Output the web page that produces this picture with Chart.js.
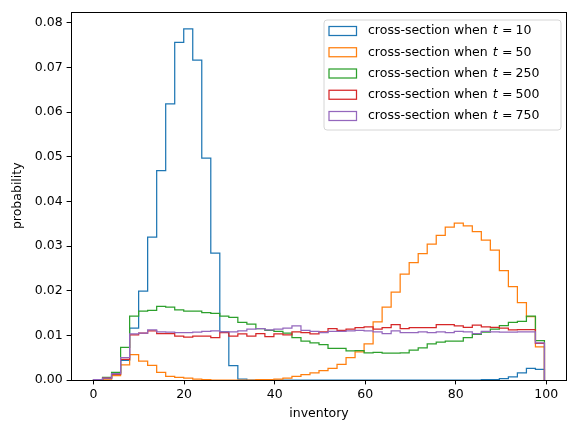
<!DOCTYPE html>
<html>
<head>
<meta charset="utf-8">
<title>cross-sections</title>
<script src="https://cdn.jsdelivr.net/npm/chart.js@4.4.1/dist/chart.umd.min.js"></script>
<style>
  html, body { margin: 0; padding: 0; background: #fff; }
  #wrap { width: 576px; height: 433px; position: relative; }
</style>
</head>
<body>
<div id="wrap"><canvas id="grafico"></canvas></div>
<script>
"use strict";

// histogram bins over the inventory range
const BIN_MIN = 0;
const BIN_MAX = 99.6;
const BIN_COUNT = 50;

const T_VALUES = [10, 50, 250, 500, 750];

// probability per bin (50 bins each)
const probT10 = [
    0.0001, 0.0003, 0.0013, 0.0044, 0.0116, 0.0199, 0.0320, 0.0469, 0.0618, 0.0756,
    0.0786, 0.0716, 0.0497, 0.0284, 0.0108, 0.0032, 0.0002, 0, 0, 0,
    0, 0, 0, 0, 0, 0, 0, 0, 0, 0,
    0, 0, 0, 0, 0, 0, 0, 0, 0, 0,
    0, 0, 0, 0.0001, 0.0001, 0.0003, 0.0007, 0.0016, 0.0026, 0.0024
];
const probT50 = [
    0, 0.0002, 0.0010, 0.0034, 0.0057, 0.0042, 0.0033, 0.0017, 0.0008, 0.0006,
    0.0004, 0.0002, 0.0001, 0, 0, 0, 0, 0, 0.0001, 0.0001,
    0.0002, 0.0004, 0.0008, 0.0012, 0.0016, 0.0021, 0.0026, 0.0035, 0.0050, 0.0063,
    0.0081, 0.0130, 0.0163, 0.0197, 0.0237, 0.0263, 0.0283, 0.0304, 0.0324, 0.0342,
    0.0351, 0.0345, 0.0332, 0.0313, 0.0291, 0.0245, 0.0209, 0.0173, 0.0142, 0.0074
];
const probT250 = [
    0.0001, 0.0006, 0.0017, 0.0073, 0.0143, 0.0154, 0.0156, 0.0165, 0.0163, 0.0157,
    0.0154, 0.0154, 0.0151, 0.0149, 0.0143, 0.0140, 0.0129, 0.0125, 0.0115, 0.0111,
    0.0109, 0.0105, 0.0095, 0.0087, 0.0083, 0.0079, 0.0071, 0.0071, 0.0065, 0.0066,
    0.0061, 0.0062, 0.0060, 0.0060, 0.0061, 0.0067, 0.0072, 0.0081, 0.0085, 0.0087,
    0.0087, 0.0095, 0.0102, 0.0107, 0.0114, 0.0122, 0.0129, 0.0131, 0.0143, 0.0088
];
const probT500 = [
    0.0001, 0.0004, 0.0013, 0.0046, 0.0101, 0.0105, 0.0110, 0.0104, 0.0104, 0.0098,
    0.0096, 0.0098, 0.0098, 0.0095, 0.0106, 0.0098, 0.0103, 0.0098, 0.0104, 0.0097,
    0.0103, 0.0101, 0.0108, 0.0106, 0.0103, 0.0108, 0.0115, 0.0111, 0.0114, 0.0117,
    0.0119, 0.0114, 0.0117, 0.0124, 0.0115, 0.0117, 0.0117, 0.0117, 0.0124, 0.0124,
    0.0121, 0.0118, 0.0123, 0.0119, 0.0118, 0.0116, 0.0112, 0.0113, 0.0113, 0.0082
];
const probT750 = [
    0.0001, 0.0004, 0.0014, 0.0050, 0.0103, 0.0105, 0.0112, 0.0108, 0.0107, 0.0106,
    0.0106, 0.0107, 0.0109, 0.0110, 0.0108, 0.0108, 0.0110, 0.0114, 0.0115, 0.0112,
    0.0114, 0.0116, 0.0121, 0.0111, 0.0109, 0.0106, 0.0109, 0.0109, 0.0110, 0.0111,
    0.0110, 0.0108, 0.0104, 0.0110, 0.0106, 0.0106, 0.0108, 0.0106, 0.0108, 0.0106,
    0.0109, 0.0108, 0.0104, 0.0109, 0.0108, 0.0107, 0.0107, 0.0108, 0.0108, 0.0083
];

const X_TICKS = [0, 20, 40, 60, 80, 100];
const Y_TICKS = [0, 0.01, 0.02, 0.03, 0.04, 0.05, 0.06, 0.07, 0.08];

const SERIES = [probT10, probT50, probT250, probT500, probT750];
const COLORS = ["#1f77b4", "#ff7f0e", "#2ca02c", "#d62728", "#9467bd"];
const FONT = "'DejaVu Sans', sans-serif";

document.addEventListener("DOMContentLoaded", () => {
    Chart.defaults.font.family = FONT;
    Chart.defaults.font.size = 12.5;
    Chart.defaults.color = "#000";

    // outline of a step histogram: up at the first edge, down at the last one
    function stepPoints(values) {
        const width = (BIN_MAX - BIN_MIN) / BIN_COUNT;
        const pts = [{ x: BIN_MIN, y: 0 }];
        values.forEach((v, i) => pts.push({ x: BIN_MIN + i * width, y: v }));
        pts.push({ x: BIN_MAX, y: 0 });
        return pts;
    }

    const datasets = SERIES.map((values, i) => ({
        label: `cross-section when t = ${T_VALUES[i]}`,
        tValue: T_VALUES[i],
        data: stepPoints(values),
        borderColor: COLORS[i],
        borderWidth: 1.25,
        stepped: "before",
        fill: false,
        pointRadius: 0,
        order: SERIES.length - i // later series on top, like matplotlib
    }));

    // top and right spines
    const framePlugin = {
        id: "frame",
        afterDatasetsDraw(chart) {
            const { ctx, chartArea: a } = chart;
            ctx.save();
            ctx.strokeStyle = "#000";
            ctx.lineWidth = 1;
            ctx.strokeRect(Math.round(a.left) + 0.5, Math.round(a.top) + 0.5,
                Math.round(a.right - a.left) - 1, Math.round(a.bottom - a.top) - 1);
            ctx.restore();
        }
    };

    // legend box in the upper right, with italic t
    const legendPlugin = {
        id: "legendBox",
        afterDraw(chart) {
            const { ctx, chartArea: a } = chart;
            const boxW = 237, boxH = 110;
            const bx = a.right - 6.5 - boxW, by = a.top + 8;
            ctx.save();
            ctx.beginPath();
            ctx.roundRect(bx + 0.5, by + 0.5, boxW, boxH, 3);
            ctx.fillStyle = "rgba(255,255,255,0.8)";
            ctx.fill();
            ctx.strokeStyle = "#d6d6d6";
            ctx.lineWidth = 1;
            ctx.stroke();

            ctx.textBaseline = "middle";
            chart.data.datasets.forEach((ds, i) => {
                const cy = by + 11.5 + i * 21.25;
                ctx.strokeStyle = ds.borderColor;
                ctx.lineWidth = 1.25;
                ctx.strokeRect(bx + 5.5, cy - 4.5, 27.5, 9);

                let x = bx + 44.5;
                ctx.fillStyle = "#000";
                ctx.font = `12.5px ${FONT}`;
                const prefix = "cross-section when ";
                ctx.fillText(prefix, x, cy);
                x += ctx.measureText(prefix).width + 1;
                ctx.font = `oblique 12.5px ${FONT}`;
                ctx.fillText("t", x, cy);
                x += ctx.measureText("t").width + 4.5;
                ctx.font = `12.5px ${FONT}`;
                ctx.fillText("=", x, cy);
                x += ctx.measureText("=").width + 3;
                ctx.fillText(String(ds.tValue), x, cy);
            });
            ctx.restore();
        }
    };

    const tickGrid = { drawOnChartArea: false, tickLength: 4.4, color: "#000", lineWidth: 1 };

    new Chart(document.getElementById("grafico"), {
        type: "line",
        data: { datasets },
        options: {
            responsive: true,
            maintainAspectRatio: false,
            animation: false,
            events: [],
            layout: { padding: { left: 0, right: 9, top: 9, bottom: 0 } },
            plugins: { legend: { display: false }, tooltip: { enabled: false } },
            scales: {
                x: {
                    type: "linear",
                    min: -4.98,
                    max: 104.58,
                    afterBuildTicks: s => { s.ticks = X_TICKS.map(v => ({ value: v })); },
                    afterFit: s => { s.height = 53; },
                    grid: tickGrid,
                    border: { display: false },
                    ticks: { padding: 3, maxRotation: 0, callback: v => String(v) },
                    title: { display: true, text: "inventory", padding: { top: 0, bottom: 12 } }
                },
                y: {
                    min: 0,
                    max: 0.0825,
                    afterBuildTicks: s => { s.ticks = Y_TICKS.map(v => ({ value: v })); },
                    afterFit: s => { s.width = 71; },
                    grid: tickGrid,
                    border: { display: false },
                    ticks: { padding: 4, callback: v => v.toFixed(2) },
                    title: { display: true, text: "probability", padding: { top: 10, bottom: 0 } }
                }
            }
        },
        plugins: [framePlugin, legendPlugin]
    });
});
</script>
</body>
</html>
